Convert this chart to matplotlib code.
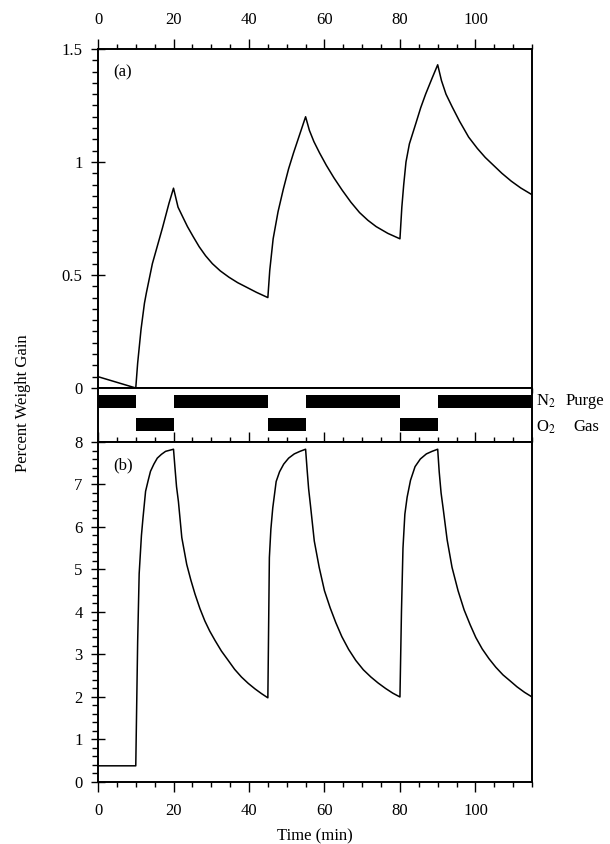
import matplotlib
matplotlib.use("Agg")
import matplotlib.pyplot as plt
from matplotlib.ticker import MultipleLocator, FuncFormatter

plt.rcParams['font.family'] = ['Liberation Serif', 'DejaVu Serif']
plt.rcParams['mathtext.fontset'] = 'stix'
plt.rcParams['font.size'] = 12

# (a) weight gain, 0 - 1.5 %
t_a = [0, 10, 10.5, 11.4, 12.3, 12.8, 14.4, 17.1, 18.8, 20,
       21.2, 22.5, 23.7, 25.2, 26.8, 28.5, 30.3, 32.4, 34.7, 37, 39.1, 42, 45,
       45.5, 46.4, 47.7, 49.1, 50.5, 51.8, 53.2, 54.4, 55,
       56, 57.2, 58.7, 60.5, 62.5, 64.7, 67, 69.3, 71.5, 73.7, 76.8, 80,
       80.5, 81, 81.6, 82.5, 84.2, 85.5, 86.8, 88.5, 90,
       91, 92.2, 93.8, 95.8, 98.2, 100.5, 102.6, 104.8, 107, 109.5, 112, 115]
w_a = [0.05, 0.0, 0.11, 0.26, 0.375, 0.42, 0.55, 0.71, 0.817, 0.884,
       0.80, 0.755, 0.714, 0.67, 0.625, 0.585, 0.55, 0.518, 0.49, 0.466, 0.448,
       0.423, 0.40,
       0.52, 0.66, 0.78, 0.88, 0.97, 1.04, 1.11, 1.17, 1.20,
       1.14, 1.09, 1.04, 0.985, 0.93, 0.875, 0.822, 0.776, 0.742, 0.714, 0.684,
       0.66,
       0.80, 0.90, 1.0, 1.08, 1.17, 1.24, 1.30, 1.37, 1.43,
       1.36, 1.30, 1.245, 1.18, 1.11, 1.06, 1.02, 0.985, 0.95, 0.915, 0.885,
       0.855]

# (b) weight gain, 0 - 8 %
t_b = [0, 10, 10.5, 10.9, 11.5, 11.9, 12.6, 13.3, 13.9, 14.8, 15.7, 16.8,
       17.9, 20,
       20.4, 20.8, 21.3, 22.2, 23.5, 24.6, 25.7, 27, 28.3, 29.6, 31, 32.7, 34.5,
       36.2, 38, 39.8, 41.6, 43.3, 45,
       45.4, 45.8, 46.3, 47.2, 48.1, 49.2, 50.5, 52, 53.5, 55,
       55.4, 55.8, 56.3, 57.3, 58.6, 60, 61.5, 63, 64.6, 66.4, 68.3, 70.3, 72.3,
       74.2, 76.2, 78.1, 80,
       80.4, 80.8, 81.3, 81.9, 82.8, 84, 85.4, 87, 88.5, 90,
       90.4, 90.9, 91.5, 92.5, 93.8, 95.4, 97, 98.6, 100.1, 101.8, 103.6, 105.4,
       107.3, 109.3, 111, 113, 115]
w_b = [0.38, 0.38, 3.3, 4.9, 5.8, 6.2, 6.84, 7.1, 7.31, 7.48, 7.62, 7.71,
       7.78, 7.83,
       7.38, 6.95, 6.6, 5.75, 5.12, 4.75, 4.42, 4.08, 3.79, 3.55, 3.33, 3.08,
       2.86, 2.65, 2.47, 2.32, 2.19, 2.08, 1.98,
       5.28, 5.95, 6.45, 7.07, 7.3, 7.48, 7.62, 7.72, 7.78, 7.83,
       7.35, 6.9, 6.5, 5.67, 5.05, 4.5, 4.1, 3.75, 3.42, 3.12, 2.86, 2.64, 2.47,
       2.33, 2.2, 2.09, 2.0,
       4.0, 5.5, 6.3, 6.7, 7.1, 7.42, 7.6, 7.72, 7.78, 7.83,
       7.3, 6.8, 6.4, 5.7, 5.05, 4.5, 4.05, 3.7, 3.4, 3.13, 2.9, 2.7, 2.52,
       2.37, 2.24, 2.11, 2.0]

# purge gas schedule (min)
n2_on = [0, 20, 55, 90]
n2_off = [10, 45, 80, 115]
o2_on = [10, 45, 80]
o2_off = [20, 55, 90]

X_MAX = 115

fig = plt.figure(figsize=(6.1, 8.44), dpi=100)
ax_a = fig.add_axes([0.1607, 0.5403, 0.7115, 0.4017])
ax_g = fig.add_axes([0.1607, 0.4763, 0.7115, 0.064])
ax_b = fig.add_axes([0.1607, 0.0735, 0.7115, 0.4028])

fmt = FuncFormatter(lambda v, p: '%g' % v)

for ax in (ax_a, ax_g, ax_b):
    ax.set_xlim(0, X_MAX)
    for s in ax.spines.values():
        s.set_linewidth(1.4)
    ax.xaxis.set_major_locator(MultipleLocator(20))
    ax.xaxis.set_minor_locator(MultipleLocator(5))

# panel (a)
ax_a.plot(t_a, w_a, color='black', lw=1.1)
ax_a.set_ylim(0, 1.5)
ax_a.yaxis.set_major_locator(MultipleLocator(0.5))
ax_a.yaxis.set_minor_locator(MultipleLocator(0.05))
ax_a.yaxis.set_major_formatter(fmt)
ax_a.tick_params(axis='x', which='both', top=True, bottom=True,
                 labeltop=True, labelbottom=False, direction='out')
ax_a.text(0.035, 0.93, '(a)', transform=ax_a.transAxes, fontsize=12,
          va='center', ha='left')

# gas strip
ax_g.set_ylim(0, 1)
ax_g.set_xticks([])
ax_g.set_yticks([])
ax_g.barh(0.75, [b - a for a, b in zip(n2_on, n2_off)], left=n2_on,
          height=0.24, color='black')
ax_g.barh(0.325, [b - a for a, b in zip(o2_on, o2_off)], left=o2_on,
          height=0.25, color='black')
ax_g.text(1.008, 0.75, 'N$_2$', transform=ax_g.transAxes, ha='left',
          va='center', fontsize=12)
ax_g.text(1.008, 0.28, 'O$_2$', transform=ax_g.transAxes, ha='left',
          va='center', fontsize=12)
ax_g.text(1.078, 0.75, 'Purge', transform=ax_g.transAxes, ha='left',
          va='center', fontsize=12)
ax_g.text(1.125, 0.28, 'Gas', transform=ax_g.transAxes, ha='center',
          va='center', fontsize=12)

# panel (b)
ax_b.plot(t_b, w_b, color='black', lw=1.1)
ax_b.set_ylim(0, 8)
ax_b.yaxis.set_major_locator(MultipleLocator(1))
ax_b.yaxis.set_minor_locator(MultipleLocator(0.2))
ax_b.yaxis.set_major_formatter(fmt)
ax_b.tick_params(axis='x', which='both', top=True, bottom=True,
                 labeltop=False, labelbottom=True, direction='out')
ax_b.text(0.035, 0.93, '(b)', transform=ax_b.transAxes, fontsize=12,
          va='center', ha='left')
ax_b.set_xlabel('Time (min)', fontsize=12, labelpad=7)

for ax in (ax_a, ax_b):
    ax.tick_params(axis='x', which='major', length=7, width=1.0, pad=8,
                   labelsize=12)
    ax.tick_params(axis='x', which='minor', length=3.5, width=1.0)
    ax.tick_params(axis='y', which='major', direction='inout', length=10,
                   width=1.0, pad=6, labelsize=12, right=False)
    ax.tick_params(axis='y', which='minor', direction='out', length=4,
                   width=1.0, right=False)

fig.text(0.038, 0.522, 'Percent Weight Gain', rotation=90, ha='center',
         va='center', fontsize=12)

fig.savefig('out.png', dpi=100)
